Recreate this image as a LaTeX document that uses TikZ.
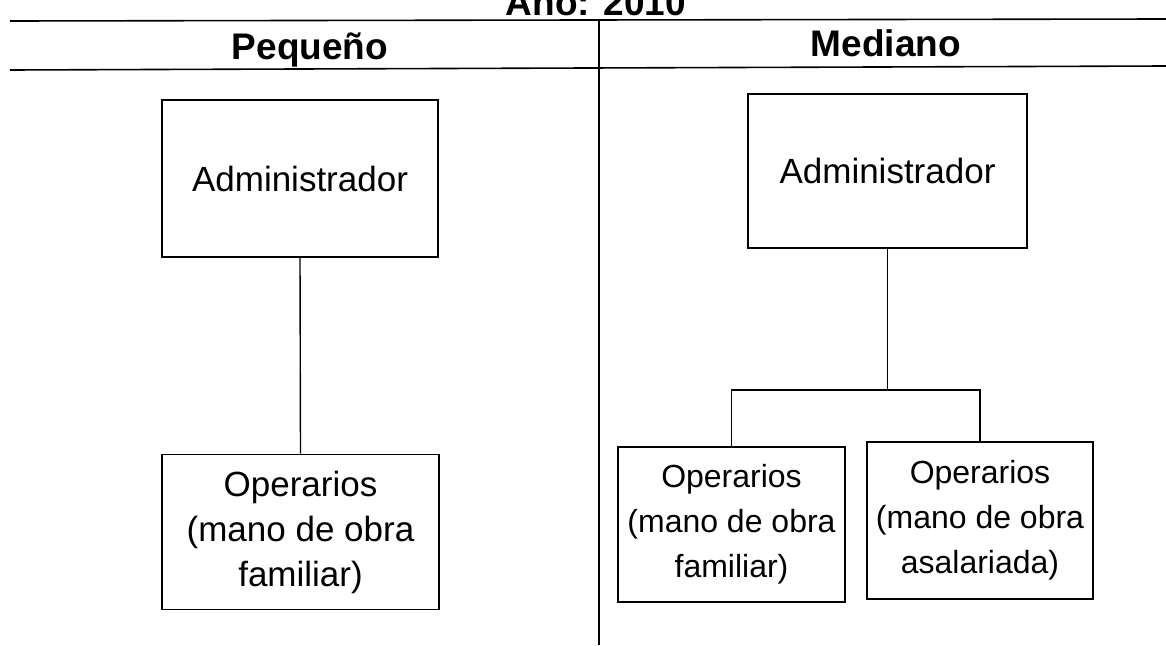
\documentclass[tikz,border=0pt]{standalone}
\usepackage{fontspec}
\setmainfont{Liberation Sans}
\begin{document}
\begin{tikzpicture}[x=1pt,y=-1pt,
  box/.style={draw,line width=1.6pt,align=center,inner sep=0pt,font=\fontsize{35}{45}\selectfont},
  head/.style={font=\fontsize{37}{44}\selectfont\bfseries,anchor=base},
  rule/.style={line width=1.6pt},
  link/.style={line width=1.4pt}]
\clip (0,0) rectangle (1166,645);
\useasboundingbox (0,0) rectangle (1166,645);
% title and table rules
\node[head] (title) at (596,15) {Año: 2010};
\draw[rule] (10,21) -- (1166,19);
\draw[rule] (10,70) -- (1166,66);
\draw[rule] (599,20) -- (599,645);
\node[head] (peq) at (310,59) {Pequeño};
\node[head] (med) at (886,56) {Mediano};
% left column
\node[box,minimum width=276pt,minimum height=157pt] (ladmin) at (300,178.5) {Administrador};
\node[box,minimum width=277pt,minimum height=155pt] (lops) at (300.5,532) {Operarios\\(mano de obra\\familiar)};
\draw[link] (ladmin.south) -- (lops.north);
% right column
\node[box,minimum width=279pt,minimum height=154pt] (radmin) at (887.5,171) {Administrador};
\node[box,minimum width=227pt,minimum height=155pt,font=\fontsize{32}{45}\selectfont] (r1) at (731.5,524.5) {Operarios\\(mano de obra\\familiar)};
\node[box,minimum width=226pt,minimum height=157pt,font=\fontsize{32}{45}\selectfont] (r2) at (980,520.5) {Operarios\\(mano de obra\\asalariada)};
\coordinate (rj) at (887.5,390);
\draw[link] (radmin.south) -- (rj);
\draw[link] (r1.north) |- (rj) -| (r2.north);
\end{tikzpicture}
\end{document}
